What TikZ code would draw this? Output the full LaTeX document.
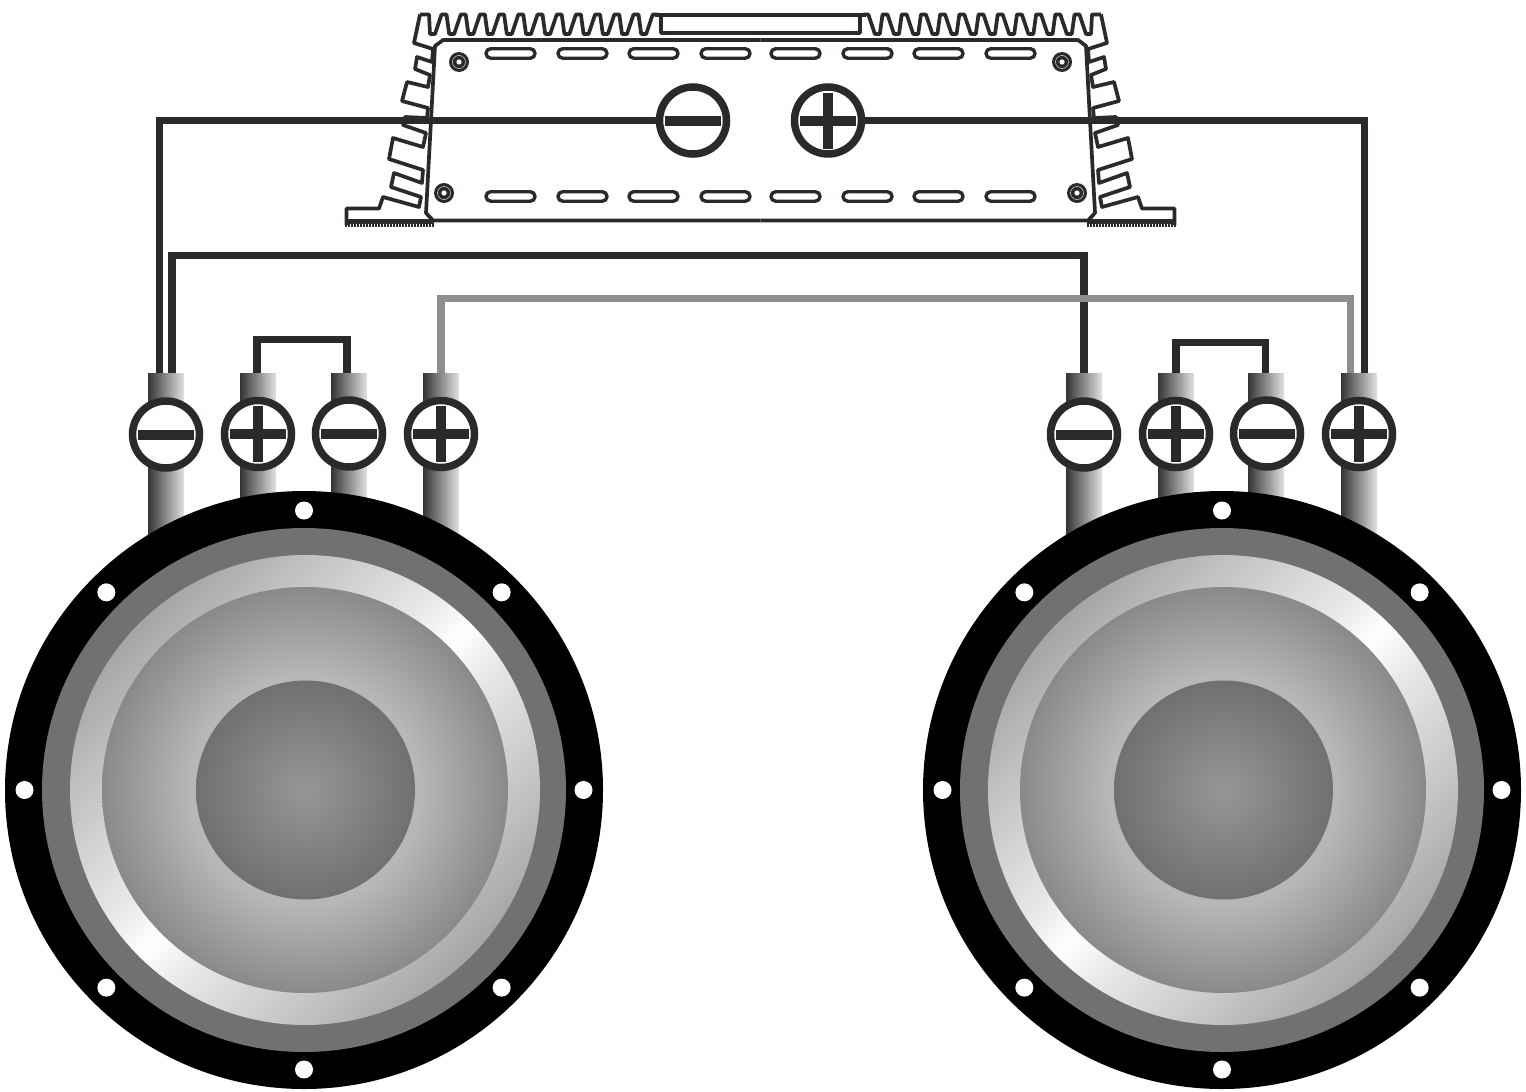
\documentclass[tikz,border=0pt]{standalone}
\usepackage{amsmath}
\usepackage{tikz}
\usetikzlibrary{calc}

\definecolor{wirecol}{HTML}{2B2A29}
\definecolor{graywire}{HTML}{8E8E8E}
\definecolor{tubedark}{HTML}{343434}
\definecolor{tubelight}{HTML}{E2E2E2}
\definecolor{basketcol}{HTML}{717170}

\pgfdeclareverticalshading{ringshade}{100bp}{color(0bp)=(black!35); color(25bp)=(black!35);
  color(33bp)=(black!24); color(45bp)=(black!9); color(50bp)=(white); color(55bp)=(black!9);
  color(67bp)=(black!24); color(75bp)=(black!35); color(100bp)=(black!35)}
\pgfdeclareradialshading{coneshade}{\pgfpointorigin}{color(0bp)=(black!32); color(14bp)=(black!28);
  color(25bp)=(black!46); color(50bp)=(black!46)}
\pgfdeclareradialshading{domeshade}{\pgfpointorigin}{color(0bp)=(black!41); color(25bp)=(black!56);
  color(50bp)=(black!56)}

\newcommand{\amphalf}{
  \draw[ampline] (420,14.5) -- (429,14.5)
    \foreach \i in {0,...,11} {
      -- ({430+19.2*\i},34) -- ({435+19.2*\i},34) -- ({441.5+19.2*\i},14.5) -- ({446.5+19.2*\i},14.5)
    };
  \draw[ampline] (420,14.5) -- (414,43) -- (433,49) -- (432,62) -- (417,57) -- (415,69)
    -- (430,75) -- (428,87) -- (407,82) -- (402,101) -- (428,108) -- (427,118)
    -- (405,117) -- (403,125) -- (426,133) -- (423,147) -- (393,138) -- (389,159)
    -- (423,170) -- (422,183) -- (394,173) -- (391,187) -- (421,197) -- (419,207)
    -- (383,197) -- (379,208.5) -- (346.5,208.5) -- (346.5,225);
  \draw[wirecol,line width=5pt] (345,221.5) -- (434,221.5);
  \draw[wirecol,line width=3.5pt,dash pattern=on 2pt off 1pt] (345,225) -- (434,225);
  \draw[ampline] (760.5,40) -- (443,40) -- (435,46) -- (426,213) -- (433,220.5) -- (760.5,220.5);
  \foreach \y in {48.7,191.7} {
    \foreach \x in {486,558,629,701} {
      \draw[slotline] (\x,\y) rectangle ++(49,9.5);
    }
  }
  \foreach \x/\y in {459/62,444/193} {
    \fill[wirecol] (\x,\y) circle (10);
    \draw[white,line width=0.4pt] (\x,\y) circle (6.5);
    \fill[white] (\x,\y) circle (2.6);
  }
}

\newcommand{\speaker}[2]{
  \node[rim] (#2) at (#1,790) {};
  \node[basket] at (#2) {};
  \node[surround] at ([xshift=1pt]#2) {};
  \node[cone] at ([xshift=1pt]#2) {};
  \node[dome] at ([xshift=1.5pt]#2) {};
  \foreach \a in {0,45,...,315} {
    \fill[white] ($(#2)+(\a:279.5)$) circle (9);
  }
}

\begin{document}
\begin{tikzpicture}[x=1pt,y=-1pt,
    ampline/.style={wirecol,line width=3.7pt,line join=round},
    slotline/.style={wirecol,line width=3.4pt,rounded corners=4.7pt},
    wire/.style={wirecol,line width=7.2pt},
    tube/.style={rectangle,anchor=north,inner sep=0,minimum width=36pt,minimum height=182pt,
      left color=tubedark,right color=tubelight},
    terminal/.style={circle,draw=wirecol,fill=white,line width=7.5pt,inner sep=0,minimum size=67pt},
    minusterm/.style={terminal,path picture={
      \fill[wirecol] ($(path picture bounding box.center)+(-28,-5)$) rectangle ++(56,10);}},
    plusterm/.style={terminal,path picture={
      \fill[wirecol] ($(path picture bounding box.center)+(-28,-5)$) rectangle ++(56,10);
      \fill[wirecol] ($(path picture bounding box.center)+(-5,-28)$) rectangle ++(10,56);}},
    rim/.style={circle,fill=black,inner sep=0,minimum size=598pt},
    basket/.style={circle,fill=basketcol,inner sep=0,minimum size=524pt},
    surround/.style={circle,inner sep=0,minimum size=470pt,shade,shading=ringshade,shading angle=45},
    cone/.style={circle,inner sep=0,minimum size=406pt,shade,shading=coneshade},
    dome/.style={circle,inner sep=0,minimum size=219pt,shade,shading=domeshade}]

  \useasboundingbox (0,0) rectangle (1526,1092);

  % amplifier
  \amphalf
  \begin{scope}[xshift=1521pt,xscale=-1]
    \amphalf
  \end{scope}
  \draw[ampline] (655,15) -- (866,15);
  \draw[ampline] (661,15) -- (661,33) -- (860,33) -- (860,15);

  \node[minusterm] (ampminus) at (693,120.5) {};
  \node[plusterm] (ampplus) at (828,120.5) {};

  % tubes behind the speakers
  \node[tube] (tubea1) at (166,373) {};
  \node[tube] (tubea2) at (258,373) {};
  \node[tube] (tubea3) at (349,373) {};
  \node[tube] (tubea4) at (441,373) {};
  \node[tube] (tubeb1) at (1084,373) {};
  \node[tube] (tubeb2) at (1176,373) {};
  \node[tube] (tubeb3) at (1266,373) {};
  \node[tube] (tubeb4) at (1359,373) {};

  \speaker{304}{spka}
  \speaker{1222}{spkb}

  \node[minusterm] (terma1) at (166,434.5) {};
  \node[plusterm] (terma2) at (258,434) {};
  \node[minusterm] (terma3) at (349,433.5) {};
  \node[plusterm] (terma4) at (441,434) {};
  \node[minusterm] (termb1) at (1084,434.5) {};
  \node[plusterm] (termb2) at (1176,434) {};
  \node[minusterm] (termb3) at (1267,433.5) {};
  \node[plusterm] (termb4) at (1359,434) {};

  % wiring
  \draw[wire] (ampminus.west) -| ([xshift=-6.5pt]tubea1.north);
  \draw[wire] (ampplus.east) -| ([xshift=5.5pt]tubeb4.north);
  \draw[wire] ([xshift=6pt]tubea1.north) -- ++(0,-117.5) -| (tubeb1.north);
  \draw[wire] ([xshift=-1pt]tubea2.north) -- ++(0,-33.5) -| ([xshift=-2pt]tubea3.north);
  \draw[wire] (tubeb2.north) -- ++(0,-30.5) -| ([xshift=-0.5pt]tubeb3.north);
  \draw[wire,graywire] (tubea4.north) -- ++(0,-74.5) -| ([xshift=-8.5pt]tubeb4.north);
\end{tikzpicture}
\end{document}
